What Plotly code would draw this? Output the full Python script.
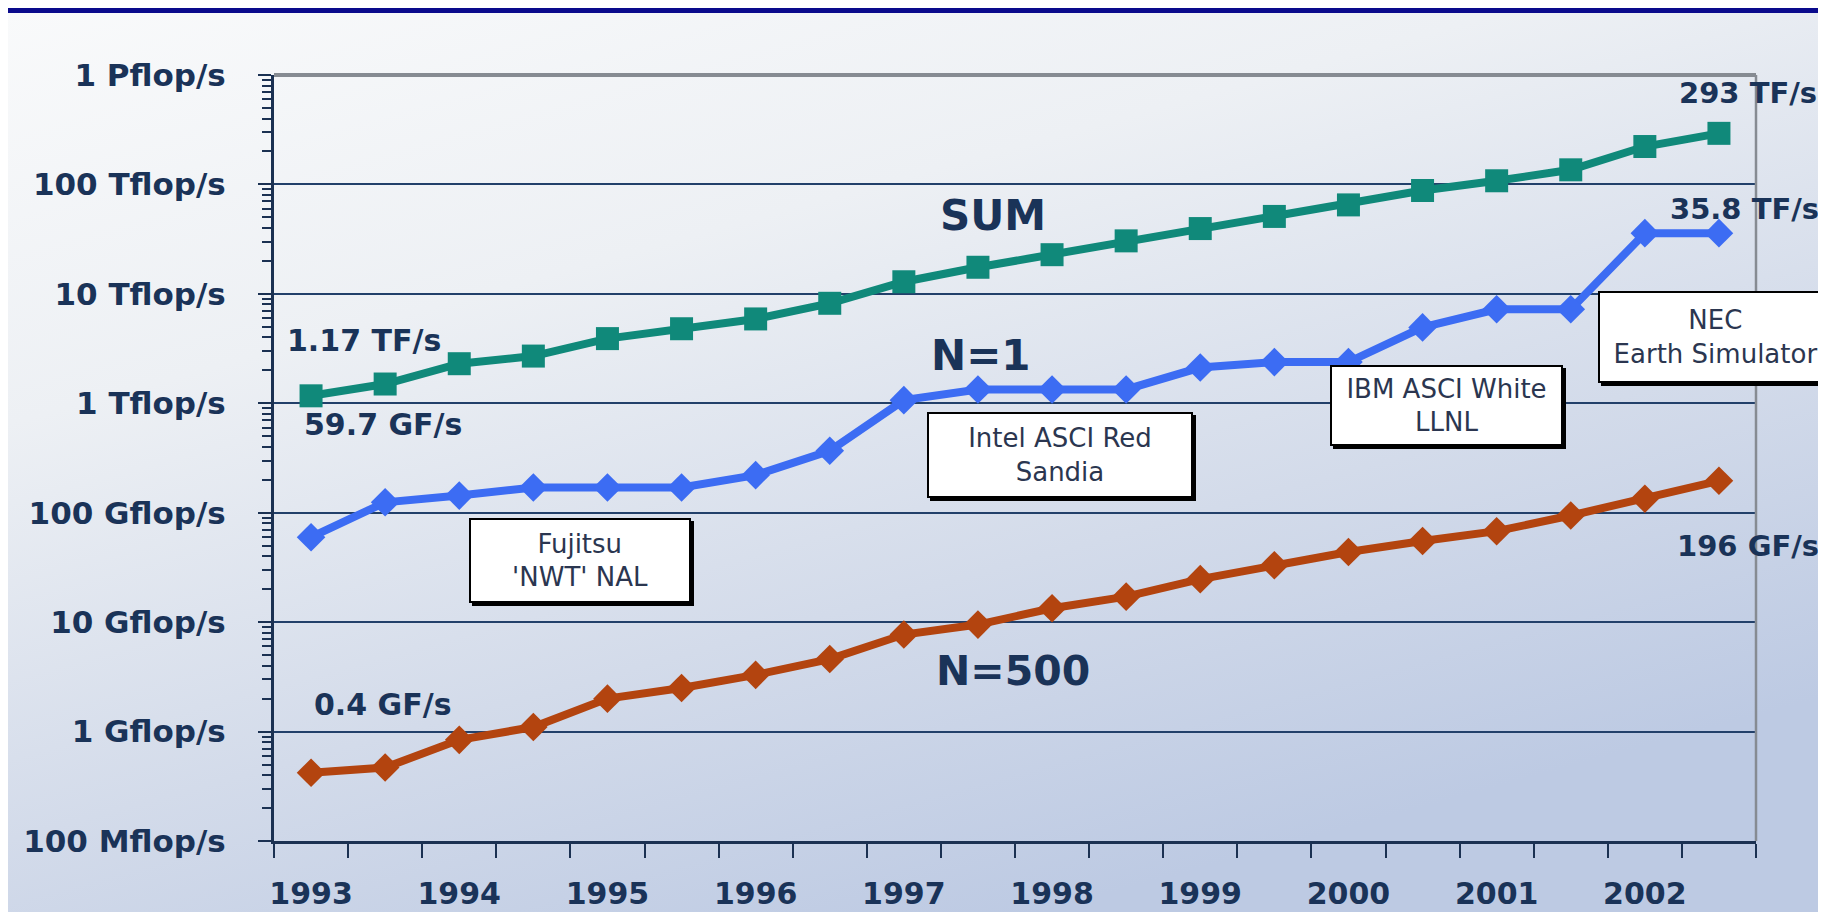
import urllib.parse
import plotly.graph_objects as go

# ---------------- data ----------------
periods = ["Jun 1993", "Nov 1993", "Jun 1994", "Nov 1994", "Jun 1995", "Nov 1995",
           "Jun 1996", "Nov 1996", "Jun 1997", "Nov 1997", "Jun 1998", "Nov 1998",
           "Jun 1999", "Nov 1999", "Jun 2000", "Nov 2000", "Jun 2001", "Nov 2001",
           "Jun 2002", "Nov 2002"]
sum_tflops = [1.17, 1.5, 2.3, 2.7, 3.9, 4.8, 5.9, 8.2, 12.9, 17.5, 22.8, 30.5,
              39.5, 51, 65, 88, 108, 136, 222, 293]
n1_gflops = [59.7, 124.5, 143.4, 170, 170, 170, 220.4, 368.2, 1068, 1338, 1338, 1338,
             2121, 2379, 2379, 4938, 7226, 7226, 35860, 35860]
n500_gflops = [0.42, 0.47, 0.84, 1.1, 2.0, 2.5, 3.3, 4.6, 7.7, 9.5, 13.4, 17.1,
               24.7, 33.1, 43.8, 55.1, 67.8, 94.3, 134.3, 195.8]
year_labels = ["1993", "1994", "1995", "1996", "1997", "1998", "1999", "2000", "2001", "2002"]
y_tick_values = [1e8, 1e9, 1e10, 1e11, 1e12, 1e13, 1e14, 1e15]
y_tick_labels = ["100 Mflop/s", "1 Gflop/s", "10 Gflop/s", "100 Gflop/s",
                 "1 Tflop/s", "10 Tflop/s", "100 Tflop/s", "1 Pflop/s"]

# ---------------- layout constants ----------------
FW, FH = 1826, 912
L, R, T, B = 266, 1748, 67, 833
PW, PH = R - L, B - T
NAVY = "#1b3152"
TXT = "#1a3358"
GRID = "#22406a"
C_SUM = "#10897a"
C_N1 = "#3c6cf3"
C_N500 = "#b3440f"
BOLD = dict(family="DejaVu Sans", weight="bold", color=TXT)


def px(xp):
    return (xp - L) / PW


def py(yp):
    return (B - yp) / PH


x_idx = list(range(len(periods)))
sum_f = [v * 1e12 for v in sum_tflops]
n1_f = [v * 1e9 for v in n1_gflops]
n500_f = [v * 1e9 for v in n500_gflops]

fig = go.Figure()
fig.add_trace(go.Scatter(x=x_idx, y=sum_f, mode="lines+markers", name="SUM",
                         line=dict(color=C_SUM, width=8),
                         marker=dict(symbol="square", size=23, color=C_SUM),
                         hovertext=periods))
fig.add_trace(go.Scatter(x=x_idx, y=n1_f, mode="lines+markers", name="N=1",
                         line=dict(color=C_N1, width=8),
                         marker=dict(symbol="diamond", size=22, color=C_N1),
                         hovertext=periods))
fig.add_trace(go.Scatter(x=x_idx, y=n500_f, mode="lines+markers", name="N=500",
                         line=dict(color=C_N500, width=8),
                         marker=dict(symbol="diamond", size=22, color=C_N500),
                         hovertext=periods))

minor_vals = [m * 10 ** d for d in range(8, 15) for m in range(2, 10)]

fig.update_yaxes(type="log", range=[8, 15], tickvals=y_tick_values, ticktext=y_tick_labels,
                 showgrid=True, gridcolor=GRID, gridwidth=1.8,
                 showline=True, linecolor=NAVY, linewidth=3,
                 ticks="outside", ticklen=13, tickwidth=2, tickcolor=NAVY,
                 minor=dict(tickvals=minor_vals, ticks="outside", ticklen=9, tickwidth=2,
                            tickcolor=NAVY, showgrid=False),
                 tickfont=dict(size=31, **BOLD), ticklabelstandoff=26,
                 zeroline=False, automargin=False)
fig.update_xaxes(range=[-0.5, len(periods) - 0.5],
                 tickvals=list(range(0, len(periods), 2)), ticktext=year_labels,
                 ticks="", showgrid=False, zeroline=False,
                 showline=True, linecolor=NAVY, linewidth=3,
                 minor=dict(tick0=-0.5, dtick=1, ticks="outside", ticklen=14, tickwidth=2,
                            tickcolor=NAVY, showgrid=False),
                 tickfont=dict(size=30, **BOLD), ticklabelstandoff=24,
                 automargin=False)

# background gradient
svg = ("<svg xmlns='http://www.w3.org/2000/svg' width='1826' height='912'>"
       "<defs><linearGradient id='g' x1='0' y1='0' x2='0.55' y2='1'>"
       "<stop offset='0' stop-color='#f9fafb'/>"
       "<stop offset='0.35' stop-color='#edf0f4'/>"
       "<stop offset='0.7' stop-color='#d3dbea'/>"
       "<stop offset='1' stop-color='#bdcae3'/>"
       "</linearGradient></defs>"
       "<rect width='1826' height='912' fill='url(#g)'/></svg>")
src = "data:image/svg+xml;charset=utf-8," + urllib.parse.quote(svg)
fig.add_layout_image(dict(source=src, xref="paper", yref="paper",
                          x=px(0), y=py(0), sizex=FW / PW, sizey=FH / PH,
                          xanchor="left", yanchor="top", sizing="stretch", layer="below"))

shapes = []
# top navy band
shapes.append(dict(type="rect", xref="paper", yref="paper", x0=px(0), x1=px(FW),
                   y0=py(5), y1=py(0), fillcolor="#0a0a8c", line=dict(width=0)))
# gray top / right frame
shapes.append(dict(type="line", xref="paper", yref="paper", x0=0, x1=1, y0=1, y1=1,
                   line=dict(color="#868b92", width=4)))
shapes.append(dict(type="line", xref="paper", yref="paper", x0=1, x1=1, y0=0, y1=1,
                   line=dict(color="#868b92", width=2.5)))

annotations = []
# boxes: (text, left, top, right, bottom)
boxes = [
    ("Fujitsu<br>'NWT' NAL", 461, 510, 683, 595),
    ("Intel ASCI Red<br>Sandia", 919, 404, 1185, 490),
    ("IBM ASCI White<br>LLNL", 1322, 357, 1555, 438),
    ("NEC<br>Earth Simulator", 1590, 283, 1825, 375),
]
for text, x0, y0, x1, y1 in boxes:
    shapes.append(dict(type="rect", xref="paper", yref="paper",
                       x0=px(x0 + 3), x1=px(x1 + 3), y0=py(y1 + 3), y1=py(y0 + 3),
                       fillcolor="#000000", line=dict(width=0)))
    annotations.append(dict(text=text, xref="paper", yref="paper",
                            x=px((x0 + x1) / 2), y=py((y0 + y1) / 2),
                            xanchor="center", yanchor="middle", showarrow=False,
                            width=x1 - x0 - 4, height=y1 - y0 - 4, borderpad=0,
                            bgcolor="#ffffff", bordercolor="#000000", borderwidth=2,
                            font=dict(family="DejaVu Sans", size=26, color="#2b3650")))

labels = [
    ("SUM", 985, 208, 42),
    ("N=1", 973, 347, 42),
    ("N=500", 1005, 663, 41),
    ("1.17 TF/s", 356, 332, 30),
    ("59.7 GF/s", 375, 417, 30),
    ("0.4 GF/s", 375, 696, 30),
    ("293 TF/s", 1740, 85, 29),
    ("35.8 TF/s", 1736, 201, 29),
    ("196 GF/s", 1740, 538, 29),
]
for text, x, y, s in labels:
    annotations.append(dict(text=text, xref="paper", yref="paper", x=px(x), y=py(y),
                            xanchor="center", yanchor="middle", showarrow=False,
                            font=dict(size=s, **BOLD)))

fig.update_layout(width=FW, height=FH, autosize=False,
                  margin=dict(l=L, r=FW - R, t=T, b=FH - B, pad=0),
                  paper_bgcolor="#e9edf3", plot_bgcolor="rgba(0,0,0,0)",
                  showlegend=False, shapes=shapes, annotations=annotations)

fig.write_html("out.html")
